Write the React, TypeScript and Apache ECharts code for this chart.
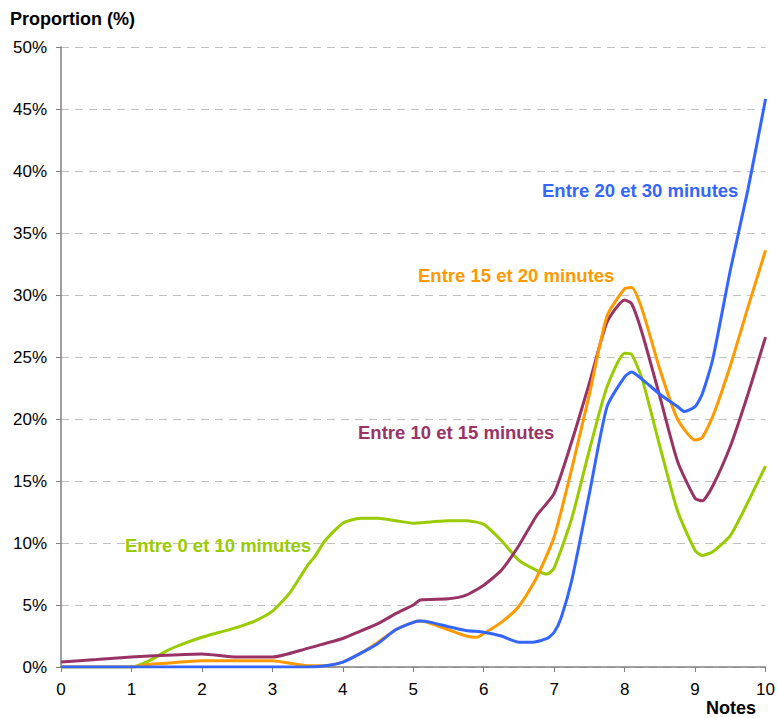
import React, { useEffect, useRef } from "react";
import * as echarts from "echarts";

const yTicks = [0, 5, 10, 15, 20, 25, 30, 35, 40, 45, 50];
const xTicks = [0, 1, 2, 3, 4, 5, 6, 7, 8, 9, 10];

const greenX = [0, 1, 1.25, 1.5, 1.75, 2, 2.25, 2.5, 2.75, 3, 3.25, 3.5, 3.6, 3.75, 4, 4.25, 4.5, 4.75, 5, 5.25, 5.5, 5.75, 6, 6.25, 6.5, 6.75, 6.9, 7, 7.25, 7.5, 7.75, 8, 8.1, 8.25, 8.5, 8.75, 9, 9.1, 9.25, 9.5, 9.75, 10];
const greenY = [0, 0, 0.5, 1.3, 1.9, 2.4, 2.8, 3.2, 3.7, 4.5, 6.0, 8.2, 8.9, 10.2, 11.6, 12.0, 12.0, 11.8, 11.6, 11.7, 11.8, 11.8, 11.5, 10.2, 8.6, 7.8, 7.5, 8.0, 12.0, 17.5, 22.6, 25.3, 25.2, 23.2, 17.8, 12.6, 9.4, 9.0, 9.3, 10.6, 13.3, 16.2];

const blueX = [0, 3.5, 3.75, 4, 4.25, 4.5, 4.75, 5, 5.1, 5.25, 5.5, 5.75, 6, 6.25, 6.5, 6.7, 6.9, 7, 7.1, 7.25, 7.5, 7.75, 8, 8.1, 8.25, 8.5, 8.75, 8.85, 9, 9.1, 9.25, 9.5, 9.75, 10];
const blueY = [0, 0, 0.1, 0.4, 1.1, 1.9, 3.0, 3.6, 3.7, 3.6, 3.25, 2.95, 2.8, 2.5, 2.0, 2.0, 2.3, 2.8, 4.0, 7.0, 14.0, 21.0, 23.4, 23.8, 23.2, 22.0, 21.0, 20.6, 21.0, 22.0, 24.8, 32.0, 38.5, 45.8];

const orangeX = [0, 1, 1.25, 1.5, 2, 2.5, 3, 3.5, 3.75, 4, 4.25, 4.5, 4.75, 5, 5.1, 5.25, 5.5, 5.75, 5.9, 6, 6.25, 6.5, 6.75, 7, 7.25, 7.5, 7.75, 8, 8.1, 8.25, 8.5, 8.75, 9, 9.1, 9.25, 9.5, 9.75, 10];
const orangeY = [0, 0, 0.2, 0.3, 0.5, 0.5, 0.5, 0.1, 0.1, 0.4, 1.1, 2.0, 3.0, 3.6, 3.7, 3.5, 3.0, 2.5, 2.4, 2.7, 3.6, 4.9, 7.2, 10.5, 16.0, 22.0, 28.3, 30.5, 30.6, 28.8, 24.0, 20.0, 18.3, 18.5, 20.2, 24.3, 29.0, 33.6];

const purpleX = [0, 0.5, 1, 1.5, 2, 2.5, 3, 3.5, 3.75, 4, 4.25, 4.5, 4.75, 5, 5.1, 5.5, 5.75, 6, 6.25, 6.5, 6.75, 7, 7.25, 7.5, 7.75, 8, 8.1, 8.25, 8.5, 8.75, 9, 9.1, 9.25, 9.5, 9.75, 10];
const purpleY = [0.4, 0.6, 0.8, 0.95, 1.05, 0.8, 0.8, 1.5, 1.9, 2.3, 2.9, 3.5, 4.3, 5.0, 5.4, 5.5, 5.8, 6.6, 7.8, 9.8, 12.2, 14.0, 18.2, 22.9, 27.8, 29.6, 29.3, 26.9, 21.8, 16.6, 13.6, 13.4, 14.6, 17.8, 22.0, 26.6];

const seriesNames = ["Entre 0 et 10 minutes", "Entre 10 et 15 minutes", "Entre 15 et 20 minutes", "Entre 20 et 30 minutes"];
const seriesColors = ["#99CC00", "#993366", "#FF9900", "#3366FF"];

const zip = (xs: number[], ys: number[]) => xs.map((x, i) => [x, ys[i]]);

export default function App() {
  const ref = useRef<HTMLDivElement>(null);
  useEffect(() => {
    if (!ref.current) return;
    const chart = echarts.init(ref.current, null, { renderer: "svg" });
    const datasets = [zip(greenX, greenY), zip(purpleX, purpleY), zip(orangeX, orangeY), zip(blueX, blueY)];
    const font = "'Liberation Sans', Arial, sans-serif";
    const labelPos = [
      { left: 125, top: 536 },
      { left: 358, top: 423 },
      { left: 418, top: 266 },
      { left: 542, top: 181 },
    ];
    chart.setOption({
      animation: false,
      backgroundColor: "#ffffff",
      grid: { left: 61, right: 11, top: 47, bottom: 51, containLabel: false },
      xAxis: {
        type: "value",
        min: xTicks[0],
        max: xTicks[xTicks.length - 1],
        interval: 1,
        axisLine: { show: true, lineStyle: { color: "#808080", width: 1.5 } },
        axisTick: { show: true, length: 5, lineStyle: { color: "#808080" } },
        axisLabel: { color: "#000", fontSize: 17, fontFamily: font, margin: 14 },
        splitLine: { show: false },
      },
      yAxis: {
        type: "value",
        min: yTicks[0],
        max: yTicks[yTicks.length - 1],
        interval: 5,
        axisLine: { show: true, lineStyle: { color: "#808080", width: 1.5 } },
        axisTick: { show: true, length: 5, lineStyle: { color: "#808080" } },
        axisLabel: { color: "#000", fontSize: 17, fontFamily: font, margin: 14, formatter: "{value}%" },
        splitLine: { show: true, lineStyle: { color: "#c0c0c0", type: [8, 6], width: 1 } },
      },
      series: datasets.map((d, i) => ({
        type: "line",
        name: seriesNames[i],
        data: d,
        smooth: 0.2,
        showSymbol: false,
        symbol: "none",
        lineStyle: { color: seriesColors[i], width: 3 },
        itemStyle: { color: seriesColors[i] },
        z: 2 + i,
      })),
      graphic: [
        {
          type: "text",
          left: 10,
          top: 10,
          style: { text: "Proportion (%)", fill: "#000", font: `bold 18px ${font}` },
        },
        {
          type: "text",
          left: 706,
          top: 699,
          style: { text: "Notes", fill: "#000", font: `bold 18px ${font}` },
        },
        ...seriesNames.map((n, i) => ({
          type: "text",
          left: labelPos[i].left,
          top: labelPos[i].top,
          style: { text: n, fill: seriesColors[i], font: `bold 18.5px ${font}` },
          z: 10,
        })),
      ],
    });
    return () => chart.dispose();
  }, []);
  return <div ref={ref} style={{ width: 778, height: 718, position: "absolute", left: 0, top: 0 }} />;
}
